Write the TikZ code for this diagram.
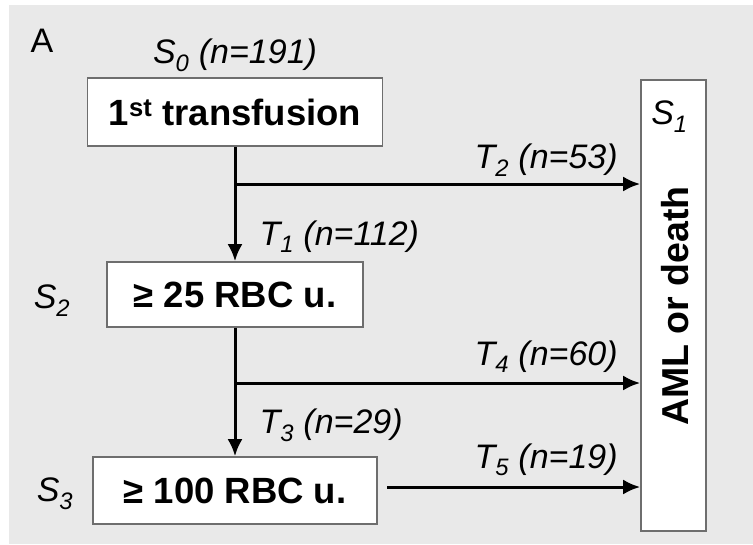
\documentclass[tikz,border=0pt]{standalone}
\usepackage{fontspec}
\setmainfont{Liberation Sans}
\usetikzlibrary{arrows.meta}

\definecolor{boxgray}{HTML}{6E6E6E}
\definecolor{bggray}{HTML}{E9E9E9}

\begin{document}
\begin{tikzpicture}[x=1pt, y=-1pt, ->, >={Latex[length=17pt,width=15pt]},
    every edge/.append style={line width=3pt},
    stage/.style={draw=boxgray, line width=1.6pt, fill=white, inner sep=0pt, -,
      font=\fontsize{36.5}{42}\selectfont\bfseries},
    lbl/.style={font=\fontsize{34}{40}\selectfont\itshape, inner sep=0pt}] % pixel units

  \useasboundingbox (0,0) rectangle (753,544);
  \fill[bggray] (9,5) rectangle (753,544);

  \node[font=\fontsize{34}{40}\selectfont, anchor=base] (panel) at (42,52) {A};

  \node[stage, minimum width=295pt, minimum height=68pt] (s0) at (235,112) {1\textsuperscript{st} transfusion};
  \node[stage, minimum width=256pt, minimum height=65pt] (s2) at (235,294.5) {≥ 25 RBC u.};
  \node[stage, minimum width=284pt, minimum height=67pt] (s3) at (235,490.5) {≥ 100 RBC u.};
  \node[stage, minimum width=65pt, minimum height=451pt] (s1) at (673.5,305.5) {};

  \node[lbl, anchor=base] (s0lbl) at (235,63) {S\textsubscript{0} (n=191)};
  \node[lbl, anchor=base] (s2lbl) at (52,308) {S\textsubscript{2}};
  \node[lbl, anchor=base] (s3lbl) at (55,501) {S\textsubscript{3}};
  \node[lbl, anchor=base] (s1lbl) at ([xshift=-4pt, yshift=-45pt]s1.north) {S\textsubscript{1}};
  \node[rotate=90, font=\fontsize{37.5}{44}\selectfont\bfseries] (aml) at (675,306) {AML or death};

  \coordinate (j1) at (235,184);
  \coordinate (j2) at (235,383);
  \coordinate (t5a) at (387,487);

  \path (s0) edge node[lbl, pos=0.78, anchor=base west, xshift=23pt, yshift=-9pt] {T\textsubscript{1} (n=112)} (s2)
  (j1) edge[-] (j1 |- s0.south)
  (j1) edge node[lbl, pos=1, anchor=base east, xshift=-21pt, yshift=16pt] {T\textsubscript{2} (n=53)} (j1 -| s1.west)
  (s2) edge node[lbl, pos=0.75, anchor=base west, xshift=23pt, yshift=-9pt] {T\textsubscript{3} (n=29)} (s3)
  (j2) edge node[lbl, pos=1, anchor=base east, xshift=-21pt, yshift=18pt] {T\textsubscript{4} (n=60)} (j2 -| s1.west)
  (t5a) edge node[lbl, pos=1, anchor=base east, xshift=-21pt, yshift=19pt] {T\textsubscript{5} (n=19)} (t5a -| s1.west);
\end{tikzpicture}
\end{document}
